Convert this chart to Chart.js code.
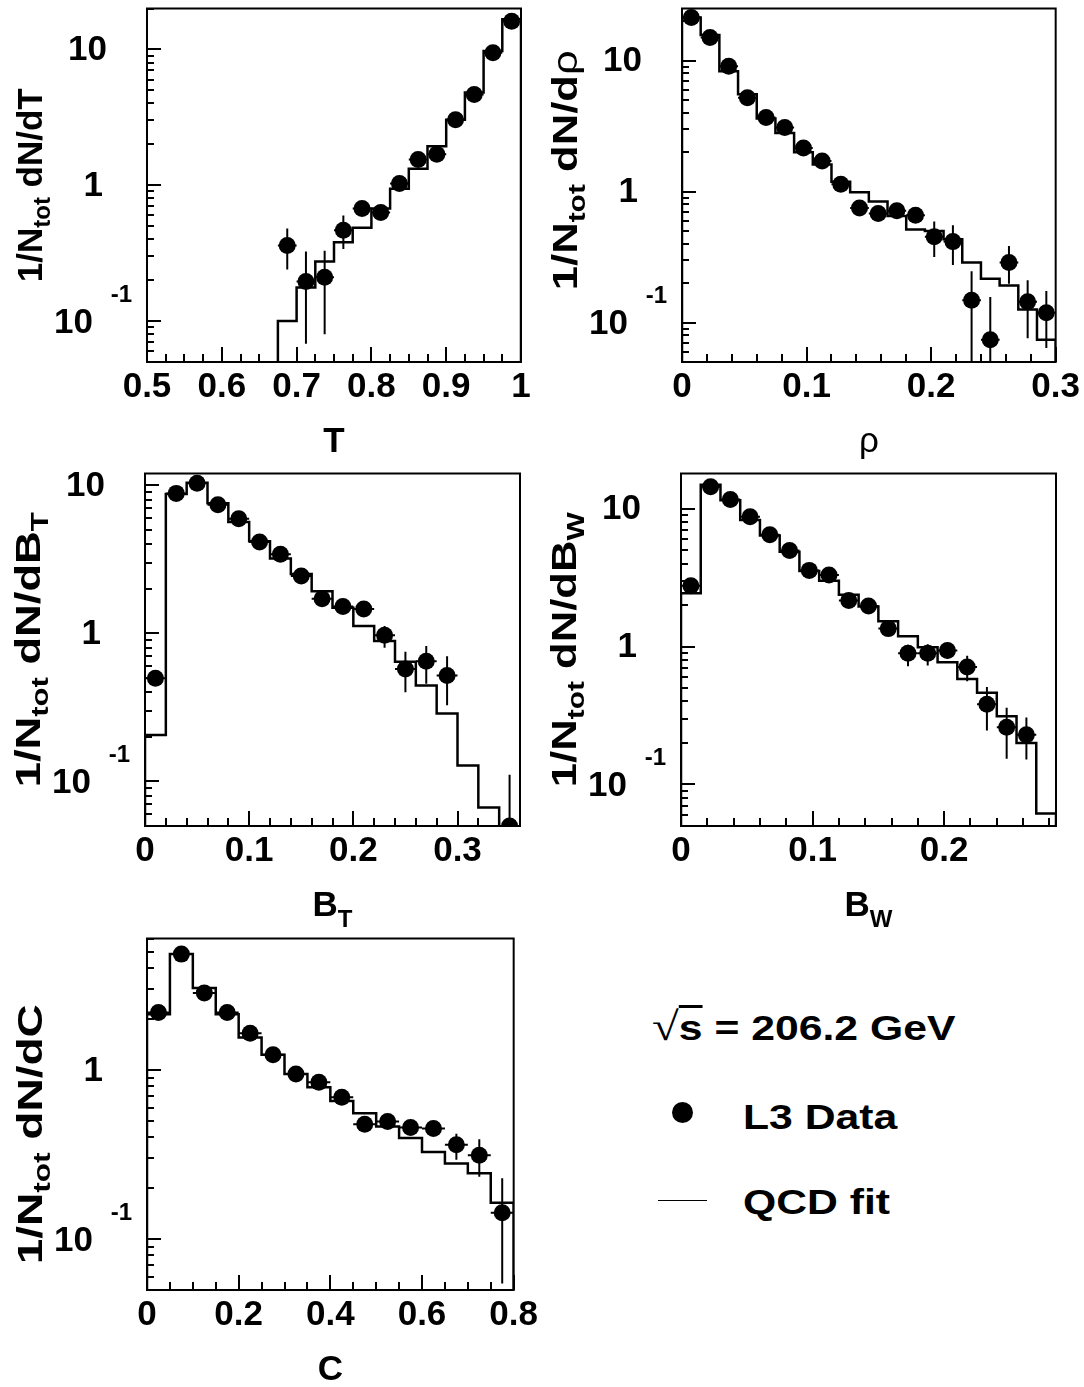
<!DOCTYPE html>
<html>
<head>
<meta charset="utf-8">
<script src="https://cdn.jsdelivr.net/npm/chart.js@4.4.0/dist/chart.umd.min.js"></script>
<style>
  body { margin: 0; background: #fff; width: 1084px; height: 1387px; position: relative; overflow: hidden; font-family: 'Liberation Sans', Arial, sans-serif; }
  canvas { position: absolute; }
  .leg { position: absolute; font-weight: bold; font-size: 35px; line-height: 35px; white-space: nowrap; transform: scaleX(1.22); transform-origin: left center; }
</style>
</head>
<body>
<canvas id="cT" width="542" height="465" style="left:0;top:0"></canvas>
<canvas id="cRho" width="542" height="465" style="left:542px;top:0"></canvas>
<canvas id="cBT" width="542" height="465" style="left:0;top:465px"></canvas>
<canvas id="cBW" width="542" height="465" style="left:542px;top:465px"></canvas>
<canvas id="cC" width="542" height="457" style="left:0;top:930px"></canvas>

<div class="leg" style="left:652px;top:1009px"><span style="font-family:'Liberation Serif',serif;font-weight:normal;font-size:40px">√</span><span style="text-decoration:overline">s</span> = 206.2 GeV</div>
<div style="position:absolute;left:672px;top:1102px;width:21px;height:21px;border-radius:50%;background:#000"></div>
<div class="leg" style="left:743px;top:1099px">L3 Data</div>
<div style="position:absolute;left:658px;top:1200px;width:49px;height:1px;background:#000"></div>
<div class="leg" style="left:743px;top:1184px">QCD fit</div>

<script>
const FONT = "'Liberation Sans', Arial, sans-serif";

// ---- Thrust T ----
const tX = [0.6875, 0.7125, 0.7375, 0.7625, 0.7875, 0.8125, 0.8375, 0.8625, 0.8875, 0.9125, 0.9375, 0.9625, 0.9875];
const tData = [0.36, 0.196, 0.21, 0.466, 0.675, 0.63, 1.03, 1.55, 1.69, 3.04, 4.65, 9.44, 16.1];
const tHi = [0.48, 0.325, 0.33, 0.60, 0.75, 0.70, 1.08, 1.62, 1.76, 3.15, 4.8, 9.7, 16.5];
const tLo = [0.24, 0.068, 0.08, 0.34, 0.60, 0.57, 0.98, 1.48, 1.62, 2.93, 4.5, 9.2, 15.7];
const tEdges = [0.675, 0.7, 0.725, 0.75, 0.775, 0.8, 0.825, 0.85, 0.875, 0.9, 0.925, 0.95, 0.975, 1.0];
const tFit = [0.1, 0.177, 0.275, 0.38, 0.487, 0.675, 0.944, 1.32, 1.94, 3.04, 4.82, 9.72, 16.7];
const tTicks = [0.5, 0.6, 0.7, 0.8, 0.9, 1.0];

// ---- Heavy jet mass rho ----
const rhoX = [0.0075, 0.0225, 0.0375, 0.0525, 0.0675, 0.0825, 0.0975, 0.1125, 0.1275, 0.1425, 0.1575, 0.1725, 0.1875, 0.2025, 0.2175, 0.2325, 0.2475, 0.2625, 0.2775, 0.2925];
const rhoData = [21.3, 15.0, 9.04, 5.21, 3.68, 3.09, 2.15, 1.71, 1.14, 0.75, 0.68, 0.715, 0.66, 0.452, 0.415, 0.148, 0.0738, 0.288, 0.144, 0.119];
const rhoHi = [22, 15.5, 9.3, 5.4, 3.8, 3.2, 2.22, 1.78, 1.2, 0.82, 0.76, 0.79, 0.74, 0.59, 0.554, 0.246, 0.157, 0.385, 0.21, 0.174];
const rhoLo = [20.6, 14.5, 8.8, 5.0, 3.55, 2.98, 2.08, 1.64, 1.08, 0.68, 0.61, 0.65, 0.59, 0.317, 0.275, 0.01, 0.01, 0.198, 0.076, 0.064];
const rhoEdges = [0, 0.015, 0.03, 0.045, 0.06, 0.075, 0.09, 0.105, 0.12, 0.135, 0.15, 0.165, 0.18, 0.195, 0.21, 0.225, 0.24, 0.255, 0.27, 0.285, 0.3];
const rhoFit = [21.3, 15.7, 8.28, 5.53, 3.62, 2.8, 2.0, 1.61, 1.19, 0.99, 0.84, 0.65, 0.514, 0.5, 0.432, 0.288, 0.216, 0.192, 0.126, 0.074];
const rhoTicks = [0, 0.1, 0.2, 0.3];

// ---- Total broadening B_T ----
const btX = [0.01, 0.03, 0.05, 0.07, 0.09, 0.11, 0.13, 0.15, 0.17, 0.19, 0.21, 0.23, 0.25, 0.27, 0.29, 0.35];
const btData = [0.498, 8.81, 10.3, 7.39, 5.93, 4.14, 3.42, 2.44, 1.71, 1.52, 1.46, 0.97, 0.575, 0.647, 0.519, 0.05];
const btHi = [0.53, 9.1, 10.6, 7.6, 6.1, 4.27, 3.53, 2.53, 1.78, 1.58, 1.53, 1.12, 0.75, 0.82, 0.70, 0.111];
const btLo = [0.47, 8.5, 10.0, 7.2, 5.76, 4.0, 3.31, 2.35, 1.64, 1.46, 1.39, 0.8, 0.40, 0.456, 0.327, 0.01];
const btEdges = [0, 0.02, 0.04, 0.06, 0.08, 0.1, 0.12, 0.14, 0.16, 0.18, 0.2, 0.22, 0.24, 0.26, 0.28, 0.3, 0.32, 0.34];
const btFit = [0.206, 8.71, 10.4, 7.55, 5.64, 4.18, 3.2, 2.52, 1.92, 1.49, 1.12, 0.889, 0.644, 0.445, 0.288, 0.128, 0.0667];
const btTicks = [0, 0.1, 0.2, 0.3];

// ---- Wide broadening B_W ----
const bwX = [0.0075, 0.0225, 0.0375, 0.0525, 0.0675, 0.0825, 0.0975, 0.1125, 0.1275, 0.1425, 0.1575, 0.1725, 0.1875, 0.2025, 0.2175, 0.2325, 0.2475, 0.2625];
const bwData = [2.76, 14.4, 11.65, 8.75, 6.47, 4.97, 3.57, 3.31, 2.16, 1.97, 1.35, 0.895, 0.895, 0.936, 0.711, 0.382, 0.26, 0.229];
const bwHi = [2.85, 14.8, 12.0, 9.0, 6.65, 5.1, 3.67, 3.42, 2.24, 2.05, 1.45, 1.03, 1.04, 1.07, 0.86, 0.51, 0.36, 0.306];
const bwLo = [2.67, 14.0, 11.3, 8.5, 6.3, 4.84, 3.47, 3.2, 2.08, 1.89, 1.25, 0.72, 0.73, 0.82, 0.56, 0.246, 0.154, 0.152];
const bwEdges = [0, 0.015, 0.03, 0.045, 0.06, 0.075, 0.09, 0.105, 0.12, 0.135, 0.15, 0.165, 0.18, 0.195, 0.21, 0.225, 0.24, 0.255, 0.27, 0.285];
const bwFit = [2.44, 14.9, 11.5, 8.28, 6.4, 4.87, 3.53, 3.0, 2.38, 1.95, 1.53, 1.19, 0.99, 0.77, 0.583, 0.463, 0.312, 0.2, 0.0617];
const bwTicks = [0, 0.1, 0.2];

// ---- C-parameter ----
const cX = [0.025, 0.075, 0.125, 0.175, 0.225, 0.275, 0.325, 0.375, 0.425, 0.475, 0.525, 0.575, 0.625, 0.675, 0.725, 0.775];
const cData = [2.19, 4.85, 2.86, 2.19, 1.65, 1.23, 0.948, 0.848, 0.69, 0.478, 0.496, 0.457, 0.451, 0.361, 0.313, 0.143];
const cHi = [2.26, 5.0, 2.95, 2.26, 1.7, 1.27, 0.98, 0.88, 0.72, 0.52, 0.535, 0.49, 0.49, 0.42, 0.39, 0.229];
const cLo = [2.12, 4.7, 2.77, 2.12, 1.6, 1.19, 0.92, 0.82, 0.66, 0.44, 0.46, 0.42, 0.41, 0.295, 0.234, 0.0547];
const cEdges = [0, 0.05, 0.1, 0.15, 0.2, 0.25, 0.3, 0.35, 0.4, 0.45, 0.5, 0.55, 0.6, 0.65, 0.7, 0.75, 0.8];
const cFit = [2.14, 4.85, 3.06, 2.14, 1.56, 1.23, 0.948, 0.79, 0.655, 0.555, 0.464, 0.396, 0.327, 0.28, 0.245, 0.164];
const cTicks = [0, 0.2, 0.4, 0.6, 0.8];

const yMajors = [10, 1, 0.1];

// histogram outline as points for a stepped line
function stepPoints(edges, vals, floor) {
  const pts = [{ x: edges[0], y: floor }];
  vals.forEach((v, i) => pts.push({ x: edges[i], y: v }));
  pts.push({ x: edges[edges.length - 1], y: vals[vals.length - 1] });
  pts.push({ x: edges[edges.length - 1], y: floor });
  return pts;
}

// draws text pieces (with subscripts) centred on x; len stretches it along the baseline
function drawRich(ctx, parts, x, y, subOff, len) {
  let w = 0;
  parts.forEach(p => { ctx.font = p.f; w += ctx.measureText(p.t).width; });
  ctx.save();
  ctx.translate(x, y);
  if (len) ctx.scale(len / w, 1);
  let cx = -w / 2;
  parts.forEach(p => {
    ctx.font = p.f;
    ctx.fillText(p.t, cx, p.sub ? subOff : 0);
    cx += ctx.measureText(p.t).width;
  });
  ctx.restore();
}

const B = 'bold 35px ' + FONT;
const S = 'bold 24px ' + FONT;
const G = '35px ' + FONT;

// frame, inner ticks, y labels, titles and error bars
function deco(cfg) {
  return {
    id: 'deco',
    beforeDatasetsDraw(chart) {
      const ctx = chart.ctx, a = chart.chartArea, xs = chart.scales.x, ys = chart.scales.y;
      ctx.save();
      ctx.beginPath();
      ctx.rect(a.left, a.top, a.right - a.left, a.bottom - a.top);
      ctx.clip();
      ctx.strokeStyle = '#000';
      ctx.lineWidth = 2;
      cfg.x.forEach((x, i) => {
        const px = xs.getPixelForValue(x), py = ys.getPixelForValue(cfg.y[i]);
        ctx.beginPath();
        ctx.moveTo(px, ys.getPixelForValue(cfg.hi[i]));
        ctx.lineTo(px, ys.getPixelForValue(cfg.lo[i]));
        ctx.moveTo(xs.getPixelForValue(x - cfg.half), py);
        ctx.lineTo(xs.getPixelForValue(x + cfg.half), py);
        ctx.stroke();
      });
      ctx.restore();
    },
    afterDraw(chart) {
      const ctx = chart.ctx, a = chart.chartArea, xs = chart.scales.x, ys = chart.scales.y;
      ctx.save();
      ctx.strokeStyle = '#000';
      ctx.fillStyle = '#000';
      ctx.lineWidth = 2;
      ctx.strokeRect(a.left, a.top, a.right - a.left, a.bottom - a.top);
      // log ticks on the left axis
      ctx.beginPath();
      for (let d = -2; d <= 2; d++) {
        for (let m = 1; m <= 9; m++) {
          const v = m * Math.pow(10, d);
          if (v < ys.min || v > ys.max) continue;
          const y = Math.round(ys.getPixelForValue(v));
          ctx.moveTo(a.left, y);
          ctx.lineTo(a.left + (m === 1 ? 14 : 7), y);
        }
      }
      // linear ticks on the bottom axis
      const start = Math.ceil(xs.min / cfg.minor - 1e-6);
      for (let k = start; k * cfg.minor <= xs.max + 1e-9; k++) {
        const v = k * cfg.minor;
        const major = Math.abs(v / cfg.major - Math.round(v / cfg.major)) < 1e-6;
        const x = Math.round(xs.getPixelForValue(v));
        ctx.moveTo(x, a.bottom);
        ctx.lineTo(x, a.bottom - (major ? 15 : 8));
      }
      ctx.stroke();
      // y labels
      ctx.textBaseline = 'middle';
      ctx.textAlign = 'right';
      ys.ticks.forEach(t => {
        const y = ys.getPixelForValue(t.value);
        ctx.font = B;
        if (t.value >= 10) ctx.fillText('10', a.left - 40, y + 1);
        else if (t.value >= 1) ctx.fillText('1', a.left - 44, y + 1);
        else {
          ctx.fillText('10', a.left - 54, y + 2);
          ctx.font = S;
          ctx.fillText('-1', a.left - 15, y - 26);
        }
      });
      // titles
      ctx.textAlign = 'left';
      ctx.textBaseline = 'alphabetic';
      drawRich(ctx, cfg.xTitle, (a.left + a.right) / 2, a.bottom + 90, 11);
      ctx.translate(a.left - 105, (a.top + a.bottom) / 2 + (cfg.yTitleShift || 0));
      ctx.rotate(-Math.PI / 2);
      drawRich(ctx, [{ t: '1/N', f: B }, { t: 'tot', f: S, sub: true }, { t: ' dN/d', f: B }].concat(cfg.yVar), 0, 0, 8, cfg.yTitleLen);
      ctx.restore();
    }
  };
}

function makePanel(id, cfg) {
  const canvas = document.getElementById(id);
  const W = canvas.width, H = canvas.height;
  const area = cfg.area;
  new Chart(canvas, {
    type: 'scatter',
    data: {
      datasets: [
        {
          type: 'line',
          data: stepPoints(cfg.edges, cfg.fit, cfg.ymin),
          stepped: 'before',
          borderColor: '#000',
          borderWidth: 2.5,
          pointRadius: 0,
          fill: false,
          order: 2
        },
        {
          type: 'scatter',
          data: cfg.x.map((x, i) => ({ x: x, y: cfg.y[i] })),
          pointRadius: 8.5,
          pointBackgroundColor: '#000',
          pointBorderWidth: 0,
          order: 1
        }
      ]
    },
    options: {
      responsive: false,
      animation: false,
      devicePixelRatio: 1,
      events: [],
      layout: { padding: { left: 0, top: area[1], right: W - area[2], bottom: 0 } },
      plugins: { legend: { display: false }, tooltip: { enabled: false } },
      scales: {
        x: {
          type: 'linear',
          min: cfg.xmin,
          max: cfg.xmax,
          afterBuildTicks: s => { s.ticks = cfg.ticks.map(v => ({ value: v })); },
          afterFit: s => { s.height = H - area[3]; },
          grid: { display: false, drawTicks: false },
          border: { display: false },
          ticks: {
            color: '#000',
            padding: 4,
            maxRotation: 0,
            autoSkip: false,
            font: { family: FONT, weight: 'bold', size: 35 },
            callback: v => String(Math.round(v * 100) / 100)
          }
        },
        y: {
          type: 'logarithmic',
          min: cfg.ymin,
          max: cfg.ymax,
          afterBuildTicks: s => { s.ticks = yMajors.filter(v => v >= cfg.ymin && v <= cfg.ymax).map(v => ({ value: v })); },
          afterFit: s => { s.width = area[0]; },
          grid: { display: false, drawTicks: false },
          border: { display: false },
          ticks: { display: false }
        }
      }
    },
    plugins: [deco(cfg)]
  });
}

makePanel('cT', {
  area: [147, 5, 521, 362], xmin: 0.5, xmax: 1.0, ymin: 0.05, ymax: 20,
  x: tX, y: tData, hi: tHi, lo: tLo, half: 0.0125, edges: tEdges, fit: tFit, ticks: tTicks,
  minor: 0.025, major: 0.1,
  xTitle: [{ t: 'T', f: B }], yVar: [{ t: 'T', f: B }]
});
makePanel('cRho', {
  area: [140, 5, 514, 362], xmin: 0, xmax: 0.3, ymin: 0.05, ymax: 25,
  x: rhoX, y: rhoData, hi: rhoHi, lo: rhoLo, half: 0.0075, edges: rhoEdges, fit: rhoFit, ticks: rhoTicks,
  minor: 0.02, major: 0.1,
  xTitle: [{ t: 'ρ', f: G }], yVar: [{ t: 'ρ', f: G }], yTitleLen: 240, yTitleShift: -15
});
makePanel('cBT', {
  area: [145, 4, 520, 361], xmin: 0, xmax: 0.36, ymin: 0.05, ymax: 12,
  x: btX, y: btData, hi: btHi, lo: btLo, half: 0.01, edges: btEdges, fit: btFit, ticks: btTicks,
  minor: 0.02, major: 0.1,
  xTitle: [{ t: 'B', f: B }, { t: 'T', f: S, sub: true }], yVar: [{ t: 'B', f: B }, { t: 'T', f: S, sub: true }],
  yTitleLen: 275, yTitleShift: 0
});
makePanel('cBW', {
  area: [139, 4, 514, 361], xmin: 0, xmax: 0.285, ymin: 0.05, ymax: 18,
  x: bwX, y: bwData, hi: bwHi, lo: bwLo, half: 0.0075, edges: bwEdges, fit: bwFit, ticks: bwTicks,
  minor: 0.02, major: 0.1,
  xTitle: [{ t: 'B', f: B }, { t: 'W', f: S, sub: true }], yVar: [{ t: 'B', f: B }, { t: 'W', f: S, sub: true }],
  yTitleLen: 275, yTitleShift: 0
});
makePanel('cC', {
  area: [147, 4, 521, 360], xmin: 0, xmax: 0.8, ymin: 0.05, ymax: 6,
  x: cX, y: cData, hi: cHi, lo: cLo, half: 0.025, edges: cEdges, fit: cFit, ticks: cTicks,
  minor: 0.05, major: 0.2,
  xTitle: [{ t: 'C', f: B }], yVar: [{ t: 'C', f: B }], yTitleLen: 260, yTitleShift: 20
});
</script>
</body>
</html>
